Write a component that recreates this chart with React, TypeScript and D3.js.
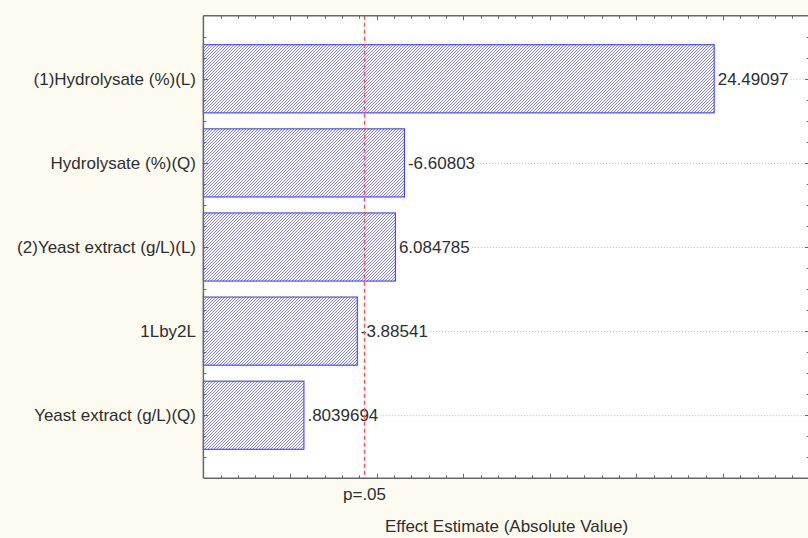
import React, { useEffect, useRef } from "react";
import * as d3 from "d3";

const categories = [
  "(1)Hydrolysate (%)(L)",
  "Hydrolysate (%)(Q)",
  "(2)Yeast extract (g/L)(L)",
  "1Lby2L",
  "Yeast extract (g/L)(Q)",
];
const effects = [24.49097, -6.60803, 6.084785, -3.88541, 0.8039694];
const effectLabels = ["24.49097", "-6.60803", "6.084785", "-3.88541", ".8039694"];
const pCritical = 4.303;
const pLabel = "p=.05";
const xTitle = "Effect Estimate (Absolute Value)";
const xDomain = [-5, 30];

const W = 808;
const H = 538;
const FONT = "'Liberation Sans', Arial, sans-serif";

export default function App() {
  const ref = useRef<SVGSVGElement | null>(null);

  useEffect(() => {
    document.body.style.margin = "0";
    const svg = d3.select(ref.current);
    svg.selectAll("*").remove();

    const left = 203.4, right = 809.6, top = 15.7, bottom = 478.3;
    const x = d3.scaleLinear().domain(xDomain).range([left, right]);
    const y = d3.scaleLinear().domain([0.25, categories.length + 0.75]).range([top, bottom]);
    const step = y(1) - y(0);
    const barH = step * 0.81;

    const defs = svg.append("defs");
    const pat = defs
      .append("pattern")
      .attr("id", "hatch")
      .attr("patternUnits", "userSpaceOnUse")
      .attr("width", 3)
      .attr("height", 3);
    pat.append("rect").attr("width", 3).attr("height", 3).attr("fill", "#ffffff");
    pat
      .append("path")
      .attr("d", "M-1,1 l2,-2 M0,3 l3,-3 M2,4 l2,-2")
      .attr("stroke", "#7272ff")
      .attr("stroke-width", 0.9);

    svg.append("rect").attr("width", W).attr("height", H).attr("fill", "#fdfaef");
    svg
      .append("rect")
      .attr("x", left)
      .attr("y", top)
      .attr("width", right - left)
      .attr("height", bottom - top)
      .attr("fill", "#ffffff");

    const gGrid = svg.append("g");
    const gBars = svg.append("g");
    const gText = svg.append("g").attr("font-family", FONT).attr("font-size", 17).attr("fill", "#2e2e2e");

    gBars
      .selectAll("rect")
      .data(effects)
      .join("rect")
      .attr("x", x(xDomain[0]))
      .attr("y", (_d, i) => y(i + 1) - barH / 2)
      .attr("width", (d) => x(Math.abs(d)) - x(xDomain[0]))
      .attr("height", barH)
      .attr("fill", "url(#hatch)")
      .attr("stroke", "#3f3fff")
      .attr("stroke-width", 1.1);

    const vals = gText
      .selectAll("text.val")
      .data(effects)
      .join("text")
      .attr("class", "val")
      .attr("x", (d) => x(Math.abs(d)) + 3.5)
      .attr("y", (_d, i) => y(i + 1))
      .attr("dy", "0.36em")
      .text((_d, i) => effectLabels[i]);

    vals.each(function (_d, i) {
      const node = this as SVGTextElement;
      const w = node.getComputedTextLength();
      const xs = x(Math.abs(effects[i])) + 3.5 + w + 2;
      gGrid
        .append("line")
        .attr("x1", xs)
        .attr("x2", right)
        .attr("y1", y(i + 1) + 0.5)
        .attr("y2", y(i + 1) + 0.5)
        .attr("stroke", "#b8b8b8")
        .attr("stroke-width", 1)
        .attr("stroke-dasharray", "1,2");
    });

    gText
      .selectAll("text.cat")
      .data(categories)
      .join("text")
      .attr("class", "cat")
      .attr("x", 196)
      .attr("y", (_d, i) => y(i + 1))
      .attr("dy", "0.36em")
      .attr("text-anchor", "end")
      .text((d) => d);

    svg
      .append("line")
      .attr("x1", x(pCritical))
      .attr("x2", x(pCritical))
      .attr("y1", top)
      .attr("y2", bottom)
      .attr("stroke", "#ff4a4a")
      .attr("stroke-width", 1.4)
      .attr("stroke-dasharray", "4,3");

    const axisColor = "#666666";
    const gAx = svg.append("g").attr("stroke", axisColor).attr("fill", "none");
    gAx.append("line").attr("x1", left).attr("x2", right).attr("y1", top).attr("y2", top).attr("stroke-width", 1.5);
    gAx.append("line").attr("x1", left).attr("x2", right).attr("y1", bottom).attr("y2", bottom).attr("stroke-width", 1.5);
    gAx.append("line").attr("x1", left).attr("x2", left).attr("y1", top).attr("y2", bottom).attr("stroke-width", 1.5);
    gAx.append("line").attr("x1", right).attr("x2", right).attr("y1", top).attr("y2", bottom).attr("stroke-width", 1.5);

    const xt = d3.range(xDomain[0] + 1, xDomain[1], 1);
    xt.forEach((t) => {
      const len = t % 5 === 0 ? 4.5 : 3;
      const xx = Math.round(x(t)) + 0.5;
      gAx.append("line").attr("x1", xx).attr("x2", xx).attr("y1", bottom).attr("y2", bottom - len).attr("stroke-width", 1);
      gAx.append("line").attr("x1", xx).attr("x2", xx).attr("y1", top).attr("y2", top + len).attr("stroke-width", 1);
    });

    const yt = d3.range(0.5, categories.length + 0.75, 0.25);
    yt.forEach((t) => {
      const len = Number.isInteger(t) ? 4.5 : 3;
      const yy = Math.round(y(t)) + 0.5;
      gAx.append("line").attr("x1", left).attr("x2", left + len).attr("y1", yy).attr("y2", yy).attr("stroke-width", 1);
      gAx.append("line").attr("x1", right).attr("x2", right - len).attr("y1", yy).attr("y2", yy).attr("stroke-width", 1);
    });

    gText
      .append("text")
      .attr("x", x(pCritical))
      .attr("y", 500)
      .attr("text-anchor", "middle")
      .text(pLabel);
    gText
      .append("text")
      .attr("x", (left + right) / 2)
      .attr("y", 532)
      .attr("text-anchor", "middle")
      .text(xTitle);
  }, []);

  return <svg ref={ref} width={W} height={H} style={{ display: "block" }} />;
}
